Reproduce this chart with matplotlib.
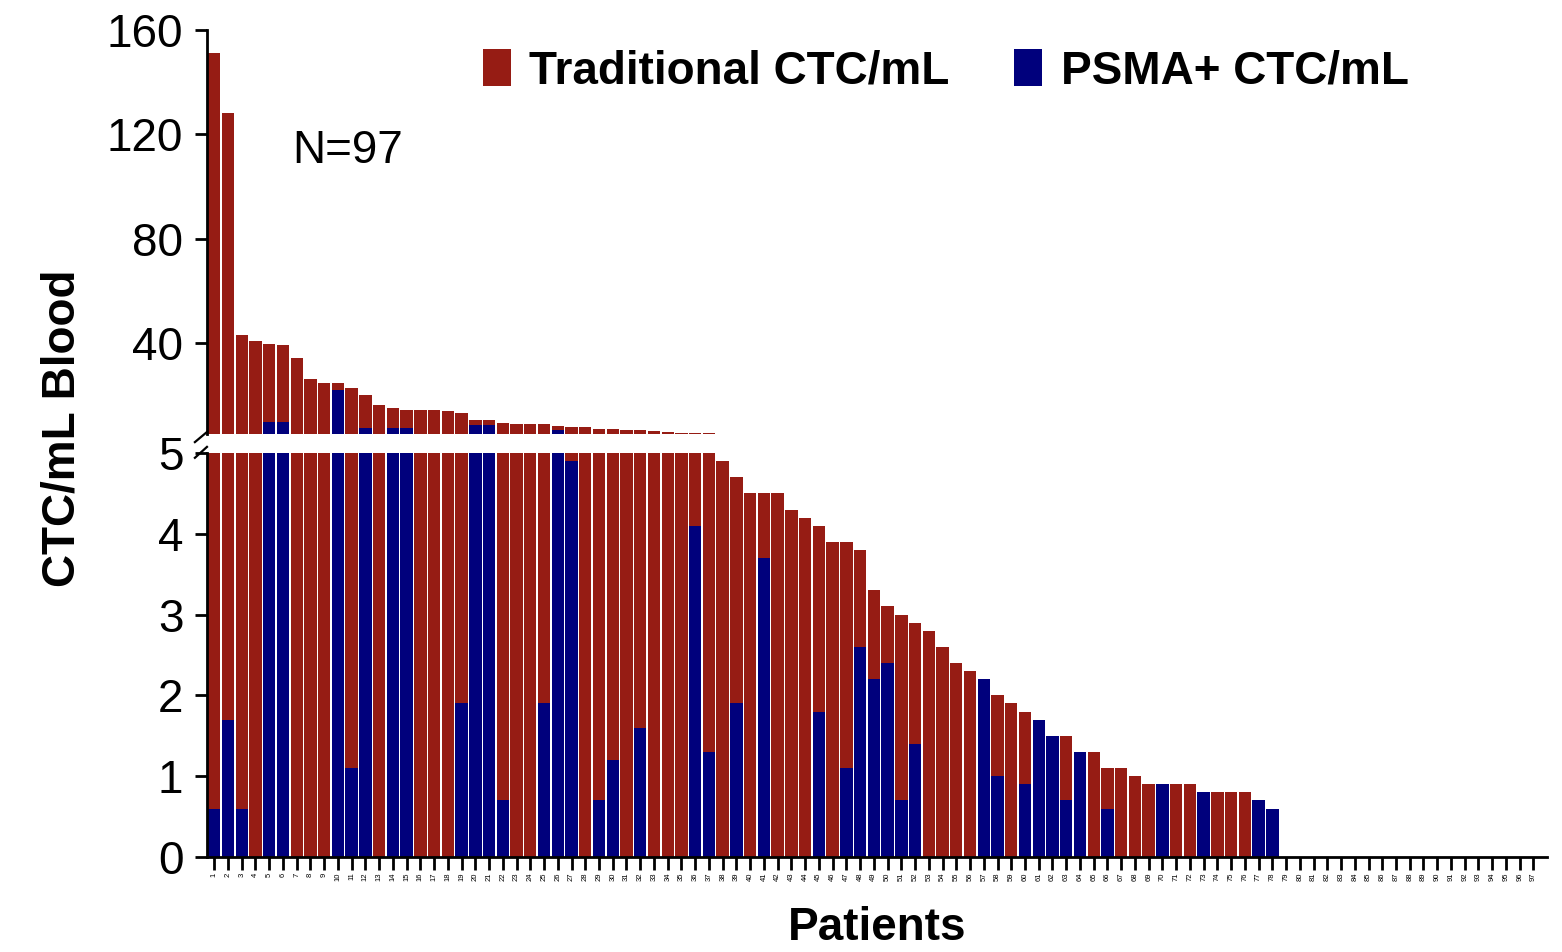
import numpy as np
import matplotlib
matplotlib.use('Agg')
import matplotlib.pyplot as plt

plt.rcParams['font.family'] = ['Liberation Sans', 'DejaVu Sans']

# 每位患者的 CTC/mL（按传统 CTC 降序）
patients = list(range(1, 98))
traditional = [151, 128, 43, 40.5, 39.7, 39.2, 34, 26, 24.7, 24.7,
               22.7, 20, 16, 15, 14.4, 14.4, 14.4, 13.8, 13, 10.5,
               10.2, 9.3, 8.9, 8.9, 8.9, 7.9, 7.6, 7.6, 7.0, 6.9,
               6.4, 6.4, 6.2, 5.9, 5.5, 5.5, 5.3, 4.9, 4.7, 4.5,
               4.5, 4.5, 4.3, 4.2, 4.1, 3.9, 3.9, 3.8, 3.3, 3.1,
               3.0, 2.9, 2.8, 2.6, 2.4, 2.3, 2.2, 2.0, 1.9, 1.8,
               1.7, 1.5, 1.5, 1.3, 1.3, 1.1, 1.1, 1.0, 0.9, 0.9,
               0.9, 0.9, 0.8, 0.8, 0.8, 0.8, 0.7, 0.6] + [0] * 19
psma = [0.6, 1.7, 0.6, 0, 9.5, 9.5, 0, 0, 0, 22,
        1.1, 7.4, 0, 7.4, 7.4, 0, 0, 0, 1.9, 8.5,
        8.3, 0.7, 0, 0, 1.9, 6.4, 4.9, 0, 0.7, 1.2,
        0, 1.6, 0, 0, 0, 4.1, 1.3, 0, 1.9, 0,
        3.7, 0, 0, 0, 1.8, 0, 1.1, 2.6, 2.2, 2.4,
        0.7, 1.4, 0, 0, 0, 0, 2.2, 1.0, 0, 0.9,
        1.7, 1.5, 0.7, 1.3, 0, 0.6, 0, 0, 0, 0.9,
        0, 0, 0.8, 0, 0, 0, 0.7, 0.6] + [0] * 19

red = '#961C14'
navy = '#00007C'

fig = plt.figure(figsize=(15.62, 9.52), dpi=100)
ax_top = fig.add_axes([0.1325, 0.5441, 0.858, 0.4244])
ax_bot = fig.add_axes([0.1325, 0.0998, 0.858, 0.4244])

for ax in (ax_top, ax_bot):
    ax.bar(patients, traditional, width=0.9, color=red, label='Traditional CTC/mL')
    ax.bar(patients, psma, width=0.9, color=navy, label='PSMA+ CTC/mL')
    ax.set_xlim(0.47, 98)
    for s in ('top', 'right'):
        ax.spines[s].set_visible(False)
    ax.spines['left'].set_linewidth(2)
    ax.tick_params(axis='y', labelsize=33, width=2, length=9, pad=8)

ax_top.set_ylim(5, 160)
ax_top.set_yticks([40, 80, 120, 160])
ax_top.spines['bottom'].set_visible(False)
ax_top.tick_params(axis='x', bottom=False, labelbottom=False)

ax_bot.set_ylim(0, 5)
ax_bot.set_yticks([0, 1, 2, 3, 4, 5])
ax_bot.spines['bottom'].set_linewidth(2)
ax_bot.set_xticks(patients)
ax_bot.set_xticklabels([str(p) for p in patients], rotation=90, fontsize=5.5)
ax_bot.tick_params(axis='x', width=2, length=9, pad=2)
ax_bot.set_xlabel('Patients', fontsize=33, fontweight='bold', labelpad=18)

# 断轴标记
kw = dict(color='k', lw=1.6, clip_on=False)
ax_top.plot([-0.009, 0.0], [-0.02, 0.005], transform=ax_top.transAxes, **kw)
ax_bot.plot([-0.009, 0.0], [0.988, 1.015], transform=ax_bot.transAxes, **kw)

fig.text(0.040, 1 - 428 / 952, 'CTC/mL Blood', rotation=90, fontsize=33,
         fontweight='bold', ha='center', va='center')
ax_top.text(0.064, 0.70, 'N=97', transform=ax_top.transAxes, fontsize=33,
            ha='left', va='center')

ax_top.legend(loc='upper left', bbox_to_anchor=(0.175, 1.055), ncol=2, frameon=False,
              prop={'size': 33, 'weight': 'bold'}, handlelength=0.62,
              handleheight=0.88, handletextpad=0.4, columnspacing=1.4)

fig.savefig('out.png', dpi=100)
